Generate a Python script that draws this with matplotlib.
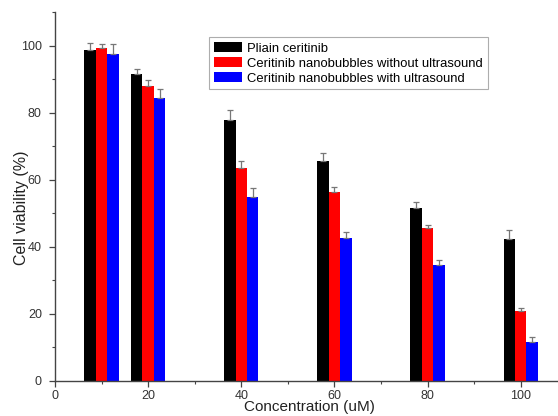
import numpy as np
import matplotlib
matplotlib.use("Agg")
import matplotlib.pyplot as plt
from matplotlib.ticker import MultipleLocator

# cell viability vs ceritinib concentration, three formulations
conc = [10, 20, 40, 60, 80, 100]
plain = [98.8, 91.4, 77.8, 65.6, 51.4, 42.4]
plain_err = [1.9, 1.5, 3.0, 2.3, 1.9, 2.5]
nb_no_us = [99.3, 87.8, 63.6, 56.4, 45.6, 20.7]
nb_no_us_err = [1.2, 1.8, 2.0, 1.4, 0.9, 1.1]
nb_us = [97.5, 84.5, 54.8, 42.6, 34.6, 11.4]
nb_us_err = [3.0, 2.4, 2.8, 1.9, 1.5, 1.6]

labels = ["Pliain ceritinib",
          "Ceritinib nanobubbles without ultrasound",
          "Ceritinib nanobubbles with ultrasound"]
colors = ["#000000", "#ff0000", "#0000ff"]

plt.rcParams["font.family"] = ["Liberation Sans", "DejaVu Sans"]
fig = plt.figure(figsize=(5.58, 4.16), dpi=100)
ax = fig.add_axes([0.0986, 0.085, 0.9014, 0.886])

w = 2.45
x = np.array(conc, dtype=float)
series = [(plain, plain_err), (nb_no_us, nb_no_us_err), (nb_us, nb_us_err)]
for i, ((vals, errs), c, lab) in enumerate(zip(series, colors, labels)):
    xs = x + (i - 1) * w
    ax.bar(xs, vals, width=w, color=c, label=lab, zorder=2)
    ax.errorbar(xs, vals, yerr=[np.zeros(len(errs)), errs], fmt="none",
                ecolor="#777777", elinewidth=0.9, capsize=2.5, capthick=0.9, zorder=3)

ax.set_xlim(0, 108)
ax.set_ylim(0, 110)
ax.xaxis.set_major_locator(MultipleLocator(20))
ax.xaxis.set_minor_locator(MultipleLocator(10))
ax.yaxis.set_major_locator(MultipleLocator(20))
ax.yaxis.set_minor_locator(MultipleLocator(10))
for s in ["top", "right"]:
    ax.spines[s].set_visible(False)
for s in ["left", "bottom"]:
    ax.spines[s].set_color("#444444")
    ax.spines[s].set_linewidth(1.0)
ax.tick_params(which="major", direction="out", length=4.5, width=0.9, color="#444444",
               labelsize=9, labelcolor="#333333")
ax.tick_params(axis="y", which="major", pad=5)
ax.tick_params(axis="x", which="major", pad=2)
ax.tick_params(which="minor", direction="out", length=2.5, width=0.8, color="#444444")

ax.set_ylabel("Cell viability (%)", fontsize=11.5, color="#222222")
ax.set_xlabel("Concentration (uM)", fontsize=11, color="#222222")
ax.yaxis.set_label_coords(-0.052, 0.47)
ax.xaxis.set_label_coords(0.505, -0.053)

leg = ax.legend(loc="upper left", bbox_to_anchor=(0.306, 0.931), fontsize=9.4,
                frameon=True, fancybox=False, borderpad=0.35, labelspacing=0.2,
                handlelength=2.2, handleheight=0.8, handletextpad=0.4,
                borderaxespad=0)
leg.get_frame().set_edgecolor("#999999")
leg.get_frame().set_linewidth(0.8)

fig.savefig("out.png", dpi=100)
